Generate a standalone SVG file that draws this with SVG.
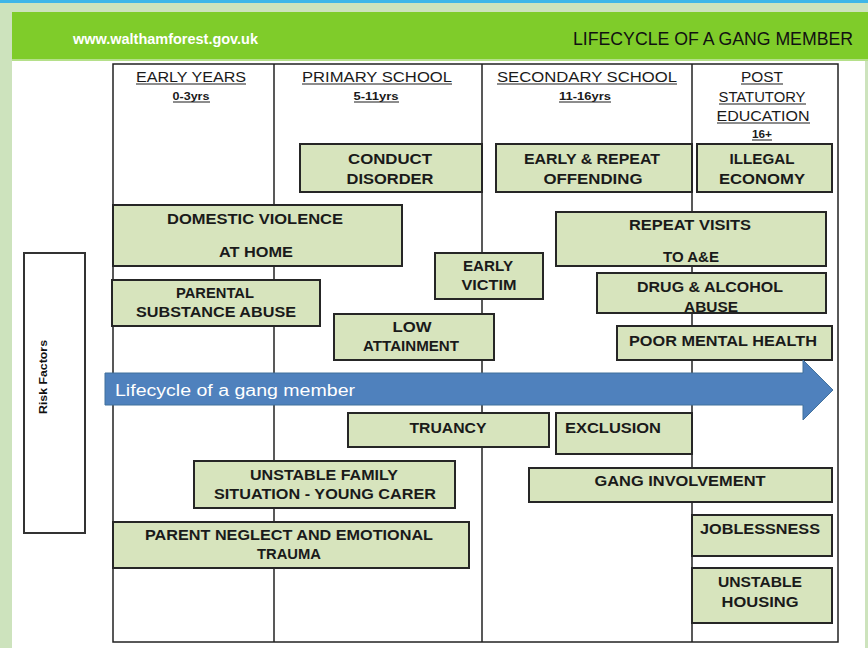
<svg xmlns="http://www.w3.org/2000/svg" width="868" height="648" viewBox="0 0 868 648">
<style>
.box{fill:#d7e4bd;stroke:#262626;stroke-width:2}
.t{font-family:"Liberation Sans",Arial,sans-serif;font-weight:bold;font-size:14.5px;fill:#1a1a1a;text-anchor:middle}
.h{font-family:"Liberation Sans",Arial,sans-serif;font-size:14px;fill:#1a1a1a;text-anchor:middle}
.s{font-family:"Liberation Sans",Arial,sans-serif;font-weight:bold;font-size:10.5px;fill:#1a1a1a;text-anchor:middle}
.ul{stroke:#1a1a1a;stroke-width:1}
.grid{stroke:#222;stroke-width:1.5;fill:none}
</style>
<rect x="0" y="0" width="868" height="648" fill="#cde3bd"/>
<rect x="0" y="0" width="868" height="3" fill="#3fb6e8"/>
<rect x="12" y="12" width="856" height="47" fill="#7fcc2a"/>
<rect x="12" y="59" width="856" height="2" fill="#b5e08a"/>
<rect x="12" y="61" width="853" height="587" fill="#ffffff"/>
<text x="73" y="44" font-family="Liberation Sans,Arial,sans-serif" font-weight="bold" font-size="14" fill="#ffffff" textLength="185" lengthAdjust="spacingAndGlyphs">www.walthamforest.gov.uk</text>
<text x="573" y="45" font-family="Liberation Sans,Arial,sans-serif" font-size="18" fill="#111" textLength="280" lengthAdjust="spacingAndGlyphs">LIFECYCLE OF A GANG MEMBER</text>

<g id="grid">
<rect class="grid" x="113" y="64" width="725" height="578"/>
<line class="grid" x1="274" y1="64" x2="274" y2="642"/>
<line class="grid" x1="482" y1="64" x2="482" y2="642"/>
<line class="grid" x1="692" y1="64" x2="692" y2="642"/>
</g>

<g id="headers">
<text class="h" x="191" y="82" textLength="110" lengthAdjust="spacingAndGlyphs">EARLY YEARS</text>
<line class="ul" x1="136" y1="84" x2="246" y2="84"/>
<text class="s" x="191" y="100" textLength="37" lengthAdjust="spacingAndGlyphs">0-3yrs</text>
<line class="ul" x1="173" y1="102" x2="210" y2="102"/>
<text class="h" x="377" y="82" textLength="150" lengthAdjust="spacingAndGlyphs">PRIMARY SCHOOL</text>
<line class="ul" x1="302" y1="84" x2="452" y2="84"/>
<text class="s" x="376" y="100" textLength="45" lengthAdjust="spacingAndGlyphs">5-11yrs</text>
<line class="ul" x1="354" y1="102" x2="399" y2="102"/>
<text class="h" x="587" y="82" textLength="180" lengthAdjust="spacingAndGlyphs">SECONDARY SCHOOL</text>
<line class="ul" x1="497" y1="84" x2="677" y2="84"/>
<text class="s" x="585" y="100" textLength="52" lengthAdjust="spacingAndGlyphs">11-16yrs</text>
<line class="ul" x1="559" y1="102" x2="611" y2="102"/>
<text class="h" x="762" y="82" textLength="42" lengthAdjust="spacingAndGlyphs">POST</text>
<line class="ul" x1="741" y1="84" x2="783" y2="84"/>
<text class="h" x="762" y="102" textLength="87" lengthAdjust="spacingAndGlyphs">STATUTORY</text>
<line class="ul" x1="719" y1="104" x2="806" y2="104"/>
<text class="h" x="763" y="121" textLength="93" lengthAdjust="spacingAndGlyphs">EDUCATION</text>
<line class="ul" x1="717" y1="123" x2="810" y2="123"/>
<text class="s" x="762" y="138" textLength="20" lengthAdjust="spacingAndGlyphs">16+</text>
<line class="ul" x1="752" y1="140" x2="772" y2="140"/>
</g>

<g id="risk-factors">
<rect x="24" y="253" width="61" height="280" fill="#ffffff" stroke="#333" stroke-width="2"/>
<text transform="translate(47,377) rotate(-90)" font-family="Liberation Sans,Arial,sans-serif" font-weight="bold" font-size="11" fill="#111" text-anchor="middle" textLength="74" lengthAdjust="spacingAndGlyphs">Risk Factors</text>
</g>

<g id="conduct-disorder">
<rect class="box" x="300" y="144" width="182" height="48"/>
<text class="t" x="390" y="164" textLength="84" lengthAdjust="spacingAndGlyphs">CONDUCT</text>
<text class="t" x="390" y="184" textLength="87" lengthAdjust="spacingAndGlyphs">DISORDER</text>
</g>
<g id="early-repeat-offending">
<rect class="box" x="496" y="144" width="196" height="48"/>
<text class="t" x="592" y="164" textLength="136" lengthAdjust="spacingAndGlyphs">EARLY &amp; REPEAT</text>
<text class="t" x="593" y="184" textLength="99" lengthAdjust="spacingAndGlyphs">OFFENDING</text>
</g>
<g id="illegal-economy">
<rect class="box" x="697" y="144" width="135" height="48"/>
<text class="t" x="762" y="164" textLength="65" lengthAdjust="spacingAndGlyphs">ILLEGAL</text>
<text class="t" x="762" y="184" textLength="86" lengthAdjust="spacingAndGlyphs">ECONOMY</text>
</g>
<g id="domestic-violence">
<rect class="box" x="113" y="205" width="289" height="61"/>
<text class="t" x="255" y="224" textLength="176" lengthAdjust="spacingAndGlyphs">DOMESTIC  VIOLENCE</text>
<text class="t" x="256" y="257" textLength="74" lengthAdjust="spacingAndGlyphs">AT  HOME</text>
</g>
<g id="repeat-visits">
<rect class="box" x="556" y="212" width="270" height="54"/>
<text class="t" x="690" y="230" textLength="122" lengthAdjust="spacingAndGlyphs">REPEAT  VISITS</text>
<text class="t" x="691" y="262" textLength="56" lengthAdjust="spacingAndGlyphs">TO A&amp;E</text>
</g>
<g id="early-victim">
<rect class="box" x="435" y="253" width="108" height="46"/>
<text class="t" x="488" y="271" textLength="50" lengthAdjust="spacingAndGlyphs">EARLY</text>
<text class="t" x="489" y="290" textLength="55" lengthAdjust="spacingAndGlyphs">VICTIM</text>
</g>
<g id="drug-alcohol-abuse">
<rect class="box" x="597" y="273" width="229" height="40"/>
<text class="t" x="710" y="292" textLength="146" lengthAdjust="spacingAndGlyphs">DRUG &amp; ALCOHOL</text>
<text class="t" x="711" y="312" textLength="54" lengthAdjust="spacingAndGlyphs">ABUSE</text>
</g>
<g id="parental-substance-abuse">
<rect class="box" x="112" y="280" width="208" height="46"/>
<text class="t" x="215" y="298" textLength="78" lengthAdjust="spacingAndGlyphs">PARENTAL</text>
<text class="t" x="216" y="317" textLength="160" lengthAdjust="spacingAndGlyphs">SUBSTANCE  ABUSE</text>
</g>
<g id="low-attainment">
<rect class="box" x="334" y="314" width="160" height="46"/>
<text class="t" x="412" y="332" textLength="39" lengthAdjust="spacingAndGlyphs">LOW</text>
<text class="t" x="411" y="351" textLength="96" lengthAdjust="spacingAndGlyphs">ATTAINMENT</text>
</g>
<g id="poor-mental-health">
<rect class="box" x="617" y="326" width="215" height="34"/>
<text class="t" x="723" y="346" textLength="188" lengthAdjust="spacingAndGlyphs">POOR MENTAL  HEALTH</text>
</g>

<g id="lifecycle-arrow">
<path d="M105,373 H803 V360 L833,390 L803,420 V405 H105 Z" fill="#4f81bd" stroke="#41719c" stroke-width="1"/>
<text x="115" y="396" font-family="Liberation Sans,Arial,sans-serif" font-size="16" fill="#ffffff" textLength="240" lengthAdjust="spacingAndGlyphs">Lifecycle of a gang member</text>
</g>

<g id="truancy">
<rect class="box" x="348" y="413" width="201" height="34"/>
<text class="t" x="448" y="433" textLength="77" lengthAdjust="spacingAndGlyphs">TRUANCY</text>
</g>
<g id="exclusion">
<rect class="box" x="556" y="413" width="136" height="41"/>
<text class="t" x="565" y="433" style="text-anchor:start" textLength="96" lengthAdjust="spacingAndGlyphs">EXCLUSION</text>
</g>
<g id="unstable-family">
<rect class="box" x="194" y="461" width="261" height="47"/>
<text class="t" x="324" y="480" textLength="148" lengthAdjust="spacingAndGlyphs">UNSTABLE  FAMILY</text>
<text class="t" x="325" y="499" textLength="222" lengthAdjust="spacingAndGlyphs">SITUATION  - YOUNG CARER</text>
</g>
<g id="gang-involvement">
<rect class="box" x="529" y="468" width="303" height="34"/>
<text class="t" x="680" y="486" textLength="171" lengthAdjust="spacingAndGlyphs">GANG  INVOLVEMENT</text>
</g>
<g id="parent-neglect">
<rect class="box" x="113" y="522" width="356" height="46"/>
<text class="t" x="289" y="540" textLength="288" lengthAdjust="spacingAndGlyphs">PARENT  NEGLECT AND  EMOTIONAL</text>
<text class="t" x="289" y="559" textLength="64" lengthAdjust="spacingAndGlyphs">TRAUMA</text>
</g>
<g id="joblessness">
<rect class="box" x="692" y="515" width="140" height="41"/>
<text class="t" x="760" y="534" textLength="120" lengthAdjust="spacingAndGlyphs">JOBLESSNESS</text>
</g>
<g id="unstable-housing">
<rect class="box" x="692" y="568" width="140" height="55"/>
<text class="t" x="760" y="587" textLength="84" lengthAdjust="spacingAndGlyphs">UNSTABLE</text>
<text class="t" x="760" y="607" textLength="77" lengthAdjust="spacingAndGlyphs">HOUSING</text>
</g>
</svg>
